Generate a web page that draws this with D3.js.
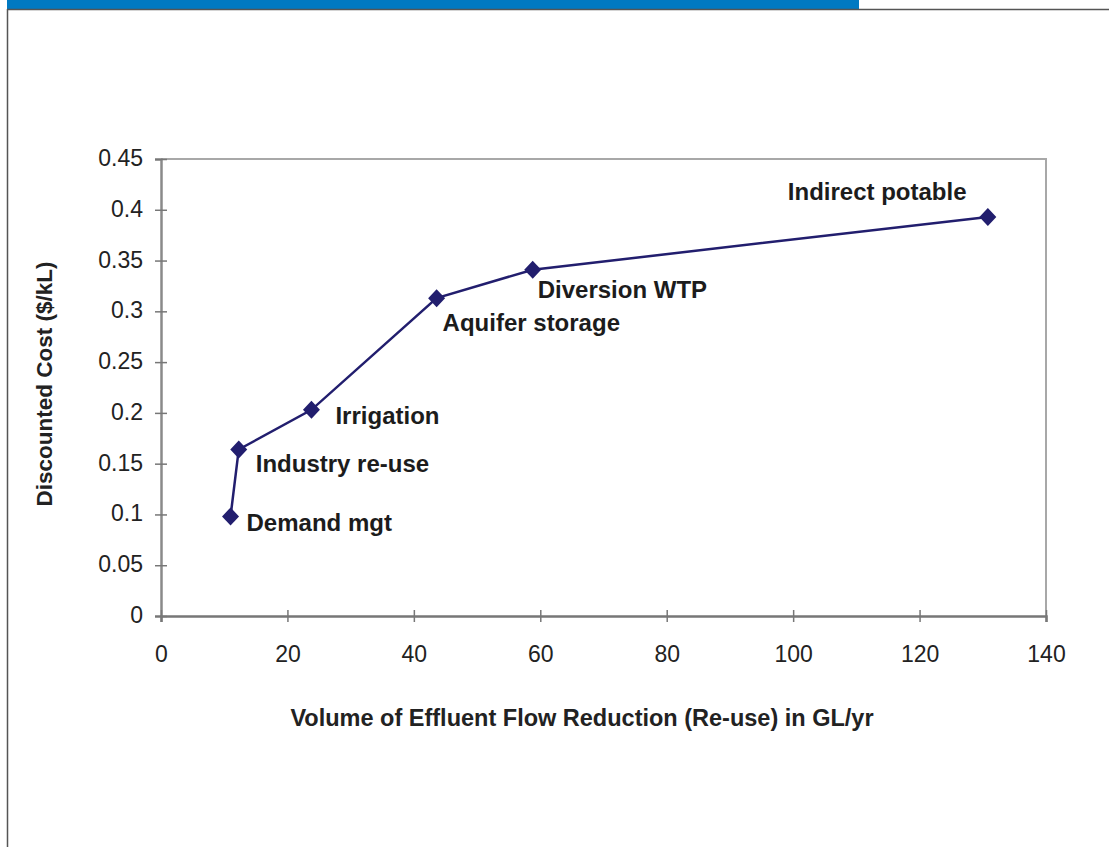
<!DOCTYPE html>
<html>
<head>
<meta charset="utf-8">
<script src="https://cdn.jsdelivr.net/npm/d3@7"></script>
<style>
  html, body { margin: 0; padding: 0; background: #fff; }
  svg { display: block; font-family: "Liberation Sans", Arial, sans-serif; }
</style>
</head>
<body>
<svg id="chart" width="1109" height="847"></svg>
<script>
// ---- data ----
const options = ["Demand mgt", "Industry re-use", "Irrigation", "Aquifer storage", "Diversion WTP", "Indirect potable"];
const volume = [11.0, 12.3, 23.8, 43.6, 58.8, 130.8];          // GL/yr
const cost = [0.098, 0.164, 0.203, 0.313, 0.341, 0.393];        // $/kL
const xTicks = [0, 20, 40, 60, 80, 100, 120, 140];
const yTicks = [0, 0.05, 0.1, 0.15, 0.2, 0.25, 0.3, 0.35, 0.4, 0.45];
const xTitle = "Volume of Effluent Flow Reduction (Re-use) in GL/yr";
const yTitle = "Discounted Cost ($/kL)";

// label placement (layout, relative to the point)
const labelOffsets = [[16, 15], [17, 23], [24, 14], [6, 33], [5, 28], [-200, -17]];

const svg = d3.select("#chart");

// page frame
svg.append("rect").attr("x", 7).attr("y", 0).attr("width", 852).attr("height", 9).attr("fill", "#0079c2");
svg.append("line").attr("x1", 7).attr("x2", 1109).attr("y1", 9.5).attr("y2", 9.5).attr("stroke", "#555").attr("stroke-width", 1.5);
svg.append("line").attr("x1", 7.5).attr("x2", 7.5).attr("y1", 9).attr("y2", 847).attr("stroke", "#555").attr("stroke-width", 1.5);

const x = d3.scaleLinear().domain([0, 140]).range([161, 1046]);
const y = d3.scaleLinear().domain([0, 0.45]).range([616, 159]);

// plot border (top & right)
svg.append("path")
  .attr("d", `M${x(0)},${y(0.45)}H${x(140)}V${y(0)}`)
  .attr("fill", "none").attr("stroke", "#a8a8a8").attr("stroke-width", 2);

// y axis
const yAxis = svg.append("g").attr("transform", `translate(${x(0)},0)`)
  .call(d3.axisLeft(y).tickValues(yTicks).tickSize(6).tickPadding(12).tickFormat(d => String(+d.toFixed(2))));
yAxis.select(".domain").attr("stroke", "#8a8a8a").attr("stroke-width", 2.5);
yAxis.selectAll(".tick line").attr("x1", 6).attr("stroke", "#777").attr("stroke-width", 1.5);
yAxis.selectAll(".tick text").attr("font-size", 23).attr("fill", "#222").attr("dy", "0.28em")
  .attr("font-family", "Liberation Sans, Arial, sans-serif");

// x axis
const xAxis = svg.append("g").attr("transform", `translate(0,${y(0)})`)
  .call(d3.axisBottom(x).tickValues(xTicks).tickSize(6).tickPadding(24));
xAxis.select(".domain").attr("stroke", "#777").attr("stroke-width", 2.5);
xAxis.selectAll(".tick line").attr("y1", -6).attr("stroke", "#777").attr("stroke-width", 1.5);
xAxis.selectAll(".tick text").attr("font-size", 23).attr("fill", "#222")
  .attr("font-family", "Liberation Sans, Arial, sans-serif");

// axis titles
svg.append("text")
  .attr("x", 582).attr("y", 726)
  .attr("text-anchor", "middle").attr("font-weight", "bold").attr("font-size", 23.5).attr("fill", "#222")
  .text(xTitle);
svg.append("text")
  .attr("transform", `translate(52,384) rotate(-90)`)
  .attr("text-anchor", "middle").attr("font-weight", "bold").attr("font-size", 22.5).attr("fill", "#222")
  .text(yTitle);

const pts = volume.map((v, i) => ({ v, c: cost[i], name: options[i], off: labelOffsets[i] }));

// line
svg.append("path")
  .datum(pts)
  .attr("fill", "none").attr("stroke", "#221e6e").attr("stroke-width", 2.5)
  .attr("d", d3.line().x(d => x(d.v)).y(d => y(d.c)));

// labels (with white background)
const lbl = svg.append("g").selectAll("g").data(pts).join("g")
  .attr("transform", d => `translate(${x(d.v) + d.off[0]},${y(d.c) + d.off[1]})`);
lbl.append("text")
  .attr("font-weight", "bold").attr("font-size", 24).attr("fill", "#1c1c1c")
  .text(d => d.name);
lbl.each(function () {
  const g = d3.select(this);
  const bb = g.select("text").node().getBBox();
  g.insert("rect", "text").attr("x", bb.x - 2).attr("y", bb.y).attr("width", bb.width + 4).attr("height", bb.height).attr("fill", "#fff");
});

// markers
svg.append("g").selectAll("path").data(pts).join("path")
  .attr("transform", d => `translate(${x(d.v)},${y(d.c)})`)
  .attr("d", "M0,-9L8.5,0L0,9L-8.5,0Z")
  .attr("fill", "#221e6e");
</script>
</body>
</html>
